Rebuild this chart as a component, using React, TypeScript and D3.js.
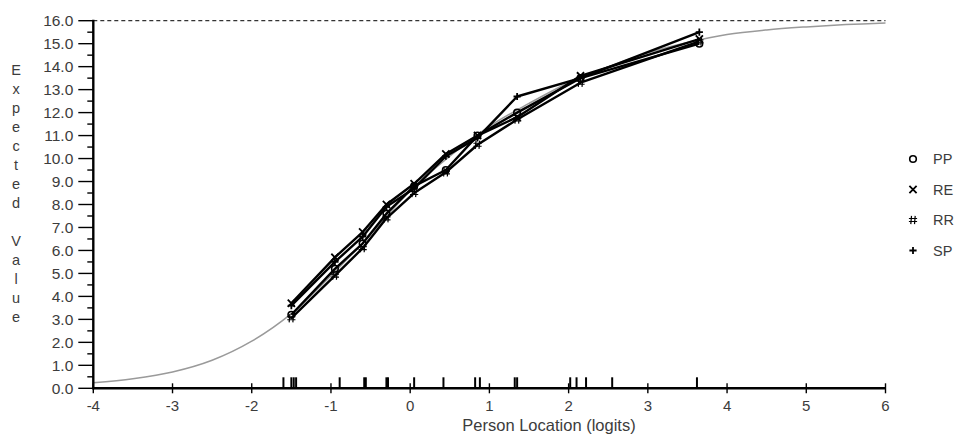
import React from "react";
import * as d3 from "d3";

const intervalX = [-1.5, -0.95, -0.6, -0.3, 0.05, 0.45, 0.85, 1.35, 2.15, 3.65];
const seriesPP = [3.2, 5.2, 6.3, 7.6, 8.8, 9.5, 11.0, 12.0, 13.5, 15.0];
const seriesRE = [3.7, 5.7, 6.8, 8.0, 8.9, 10.2, 11.0, 11.8, 13.6, 15.2];
const seriesRR = [3.05, 4.9, 6.1, 7.4, 8.5, 9.4, 10.6, 11.7, 13.3, 15.1];
const seriesSP = [3.6, 5.5, 6.6, 7.9, 8.7, 10.1, 10.9, 12.7, 13.5, 15.5];
const seriesNames = ["PP", "RE", "RR", "SP"];
const seriesSymbols = ["circle", "x", "hash", "plus"];

const curveX = [-4, -3.5, -3, -2.5, -2, -1.5, -1, -0.5, 0, 0.5, 1, 1.5, 2, 2.5, 3, 3.5, 4, 4.5, 5, 5.5, 6];
const curveY = [0.24, 0.42, 0.71, 1.22, 2.05, 3.25, 4.9, 6.7, 8.6, 10.1, 11.4, 12.4, 13.3, 14.0, 14.6, 15.05, 15.4, 15.6, 15.73, 15.83, 15.9];

const personLocations = [-1.6, -1.5, -1.47, -1.44, -0.89, -0.58, -0.56, -0.3, -0.28, 0.05, 0.42, 0.82, 0.88, 1.32, 1.35, 2.02, 2.1, 2.22, 2.55, 3.62];

const xTicks = [-4, -3, -2, -1, 0, 1, 2, 3, 4, 5, 6];
const yTicks = [0, 1, 2, 3, 4, 5, 6, 7, 8, 9, 10, 11, 12, 13, 14, 15, 16];
const yTitle = "Expected Value";
const xTitle = "Person Location (logits)";

const W = 958, H = 436;
const x = d3.scaleLinear().domain([-4, 6]).range([93.3, 885.5]);
const y = d3.scaleLinear().domain([0, 16]).range([388.3, 20.7]);

function Marker({ type, cx, cy }: { type: string; cx: number; cy: number }) {
  const s = 3.6;
  if (type === "circle") return <circle cx={cx} cy={cy} r={3.3} fill="none" stroke="#000" strokeWidth={1.6} />;
  if (type === "x")
    return <path d={`M${cx - s},${cy - s}L${cx + s},${cy + s}M${cx - s},${cy + s}L${cx + s},${cy - s}`} stroke="#000" strokeWidth={1.8} />;
  if (type === "hash")
    return (
      <path
        d={`M${cx - 1.5},${cy - s - 0.5}L${cx - 2.2},${cy + s + 0.5}M${cx + 2.2},${cy - s - 0.5}L${cx + 1.5},${cy + s + 0.5}M${cx - s - 0.5},${cy - 1.5}L${cx + s + 0.5},${cy - 1.5}M${cx - s - 0.5},${cy + 1.5}L${cx + s + 0.5},${cy + 1.5}`}
        stroke="#000"
        strokeWidth={1.2}
      />
    );
  return <path d={`M${cx - s},${cy}L${cx + s},${cy}M${cx},${cy - s}L${cx},${cy + s}`} stroke="#000" strokeWidth={1.8} />;
}

export default function App() {
  const series = [seriesPP, seriesRE, seriesRR, seriesSP];
  const line = d3.line<number>().x((_, i) => x(intervalX[i])).y((d) => y(d));
  const curveLine = d3
    .line<number>()
    .x((_, i) => x(curveX[i]))
    .y((d) => y(d))
    .curve(d3.curveCatmullRom);
  const minorY = d3.range(0.5, 16, 1);
  const font = "Liberation Sans, Arial, sans-serif";
  const letters = yTitle.split("");
  const textCol = "#3c3c3c";
  return (
    <svg width={W} height={H} style={{ position: "absolute", left: 0, top: 0, background: "#fff" }} fontFamily={font}>
      <rect width={W} height={H} fill="#fff" />
      <line x1={x(-4)} x2={x(6)} y1={y(16)} y2={y(16)} stroke="#333" strokeWidth={1.3} strokeDasharray="4,3" />
      <path d={curveLine(curveY) || ""} fill="none" stroke="#9a9a9a" strokeWidth={1.5} />
      {series.map((s, k) => (
        <path key={k} d={line(s) || ""} fill="none" stroke="#000" strokeWidth={2.4} strokeLinejoin="round" />
      ))}
      {series.map((s, k) =>
        s.map((v, i) => <Marker key={`${k}-${i}`} type={seriesSymbols[k]} cx={x(intervalX[i])} cy={y(v)} />)
      )}
      {personLocations.map((p, i) => (
        <line key={i} x1={x(p)} x2={x(p)} y1={y(0) - 11} y2={y(0)} stroke="#000" strokeWidth={2} />
      ))}
      <line x1={x(-4)} x2={x(-4)} y1={y(16) - 1} y2={y(0) + 1} stroke="#000" strokeWidth={2.4} />
      {yTicks.map((t) => (
        <g key={t}>
          <line x1={x(-4) - 15} x2={x(-4)} y1={y(t)} y2={y(t)} stroke="#000" strokeWidth={1.4} />
          <text x={x(-4) - 20} y={y(t)} dy="0.36em" textAnchor="end" fontSize={15.5} fill={textCol}>
            {t.toFixed(1)}
          </text>
        </g>
      ))}
      {minorY.map((t) => (
        <line key={t} x1={x(-4) - 6} x2={x(-4)} y1={y(t)} y2={y(t)} stroke="#000" strokeWidth={1.4} />
      ))}
      <line x1={x(-4) - 1} x2={x(6)} y1={y(0)} y2={y(0)} stroke="#000" strokeWidth={2.4} />
      {xTicks.map((t) => (
        <g key={t}>
          <line x1={x(t)} x2={x(t)} y1={y(0) - 5} y2={y(0) + 5} stroke="#000" strokeWidth={1.4} />
          <text x={x(t)} y={406} dy="0.36em" textAnchor="middle" fontSize={15} fill={textCol}>
            {t}
          </text>
        </g>
      ))}
      <text x={549} y={425} dy="0.36em" textAnchor="middle" fontSize={16.5} fill={textCol}>
        {xTitle}
      </text>
      {letters.map((c, i) => (
        <text key={i} x={16} y={70 + i * 19} dy="0.36em" textAnchor="middle" fontSize={14.5} fill={textCol}>
          {c}
        </text>
      ))}
      {seriesNames.map((n, i) => (
        <g key={n}>
          <Marker type={seriesSymbols[i]} cx={913} cy={159 + i * 30.5} />
          <text x={933} y={159 + i * 30.5} dy="0.36em" fontSize={14.5} fill={textCol}>
            {n}
          </text>
        </g>
      ))}
    </svg>
  );
}
